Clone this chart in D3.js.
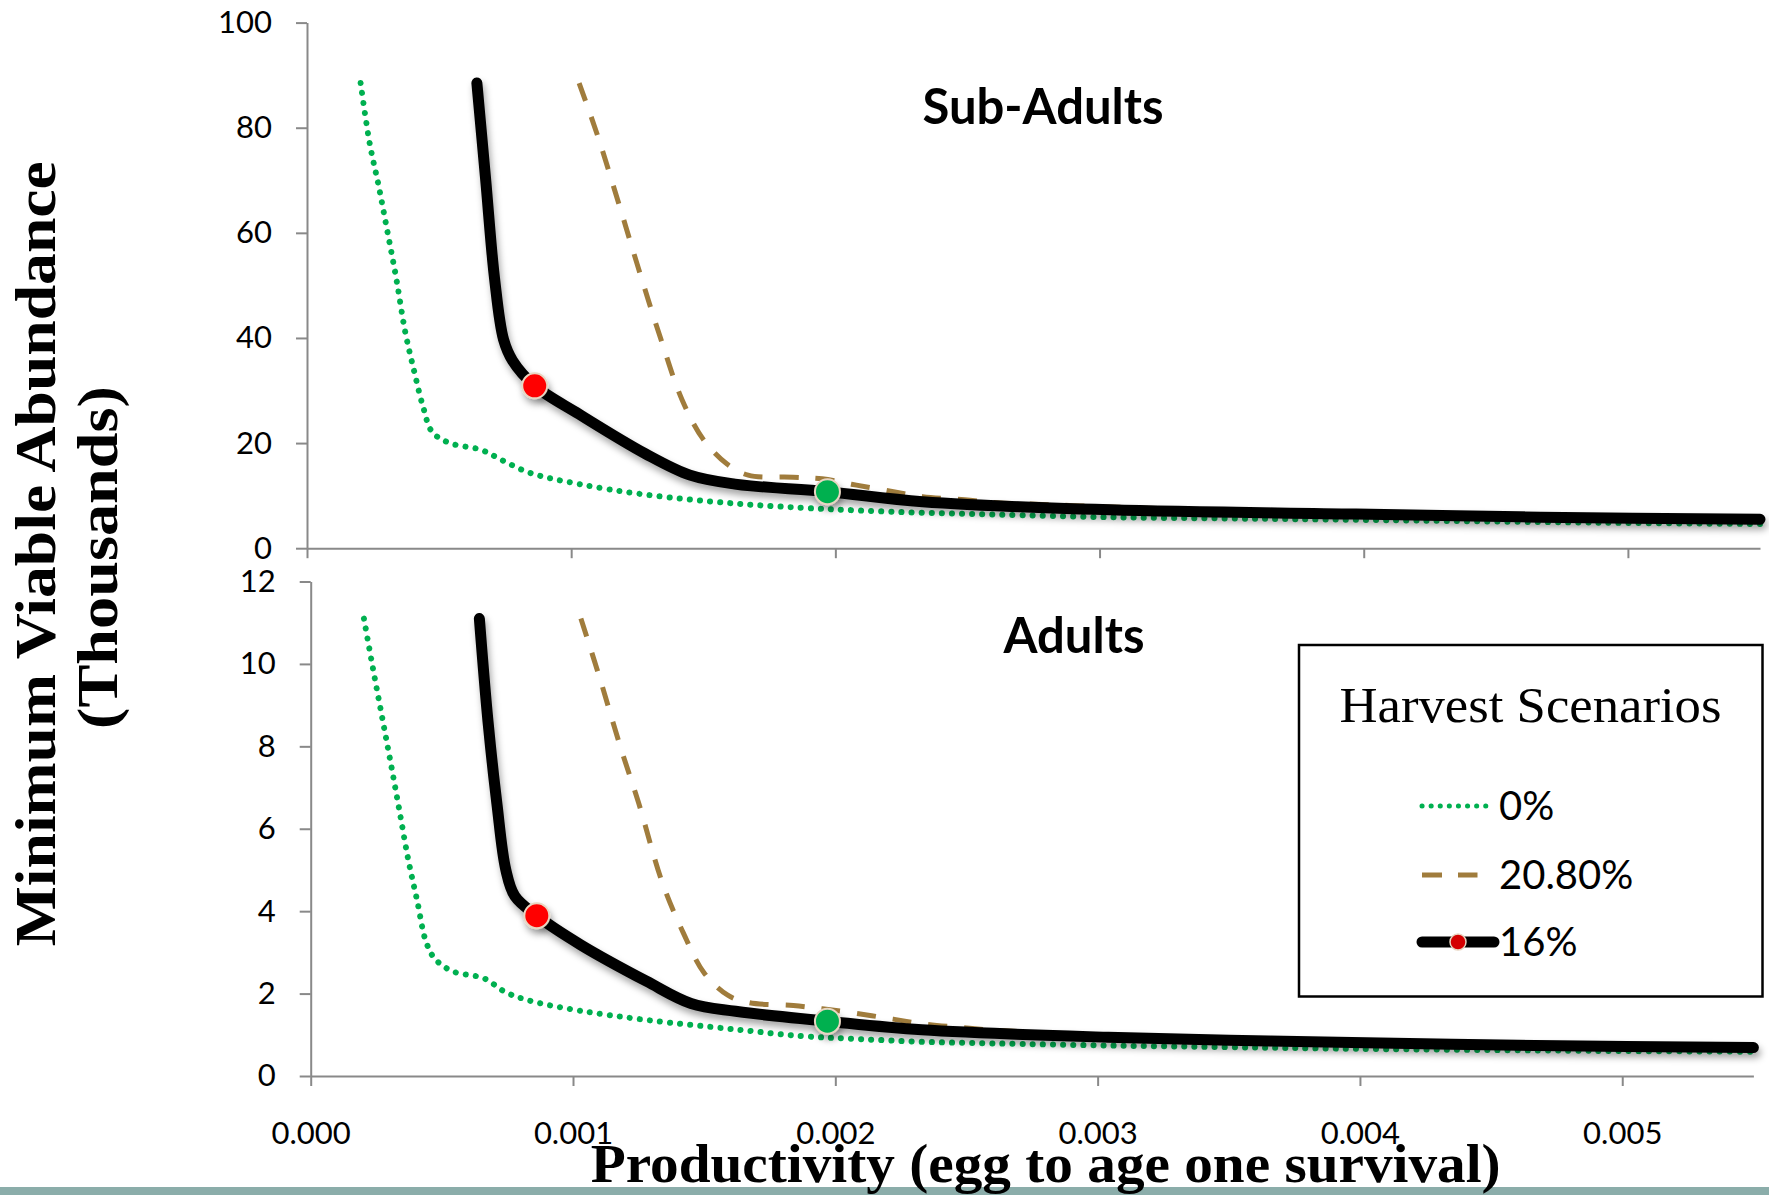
<!DOCTYPE html>
<html>
<head>
<meta charset="utf-8">
<script src="https://cdn.jsdelivr.net/npm/d3@7"></script>
<style>
  body { margin: 0; background: #fff; }
</style>
</head>
<body>
<div id="chart"></div>
<script>
// ---- data ----
const scenarioNames = ["0%", "20.80%", "16%"];
const xTicks = [0, 0.001, 0.002, 0.003, 0.004, 0.005];
const subAdultTicks = [0, 20, 40, 60, 80, 100];
const adultTicks = [0, 2, 4, 6, 8, 10, 12];

// 0% harvest
const prod0 = [0.000203, 0.000237, 0.000271, 0.000305, 0.000338, 0.000372, 0.000406, 0.00044, 0.000474, 0.000541,
  0.00066, 0.000744, 0.000846, 0.00103, 0.00128, 0.00162, 0.00187, 0.00208, 0.00233, 0.00261, 0.00304, 0.0035,
  0.00398, 0.0049, 0.0055];
const subAdults0 = [88.5, 77.1, 69.0, 60.1, 51.3, 41.1, 33.6, 26.8, 22.1, 20.0, 18.7, 16.6, 14.3, 12.2, 10.2, 8.5,
  7.7, 7.2, 6.75, 6.4, 5.9, 5.65, 5.4, 4.85, 4.6];
const adults0 = [11.1, 9.9, 8.75, 7.6, 6.45, 5.25, 4.25, 3.25, 2.84, 2.54, 2.37, 2.03, 1.81, 1.58, 1.36, 1.13,
  0.97, 0.9, 0.83, 0.79, 0.74, 0.70, 0.66, 0.61, 0.59];

// 20.80% harvest
const prod208 = [0.00103, 0.0011, 0.00118, 0.00125, 0.00134, 0.00142, 0.0015, 0.00159, 0.00167, 0.00184, 0.00195,
  0.00208, 0.00222, 0.00233, 0.00249, 0.00261, 0.00276, 0.0029, 0.0035, 0.0045, 0.0055];
const subAdults208 = [88.5, 78.5, 65.6, 54.0, 39.7, 28.2, 20.7, 16.0, 13.9, 13.5, 13.2, 12.0, 10.75, 9.8, 9.2, 8.65,
  8.35, 8.1, 7.1, 6.3, 5.6];
const adults208 = [11.1, 9.7, 8.0, 6.63, 4.7, 3.48, 2.5, 1.96, 1.78, 1.71, 1.63, 1.52, 1.38, 1.27, 1.17, 1.11, 1.06,
  1.02, 0.90, 0.79, 0.70];

// 16% harvest
const prod16 = [0.000643, 0.000676, 0.00071, 0.000744, 0.000778, 0.000862, 0.00103, 0.00128, 0.00145, 0.00162,
  0.00197, 0.00233, 0.00304, 0.00397, 0.00467, 0.0055];
const subAdults16 = [88.5, 70.3, 51.3, 39.7, 35.7, 30.9, 25.5, 18.0, 13.9, 12.2, 10.75, 8.85, 7.3, 6.5, 5.9, 5.5];
const adults16 = [11.1, 8.6, 6.6, 5.0, 4.37, 3.89, 3.18, 2.30, 1.76, 1.57, 1.33, 1.12, 0.94, 0.81, 0.74, 0.69];
const redPoint = 5;
const greenPoint = 10;

// ---- drawing ----
const W = 1769, H = 1195;
const svg = d3.select("#chart").append("svg").attr("width", W).attr("height", H);
svg.append("rect").attr("width", W).attr("height", H).attr("fill", "#fff");

const filter = svg.append("defs").append("filter")
  .attr("id", "shadow").attr("filterUnits", "userSpaceOnUse")
  .attr("x", 0).attr("y", 0).attr("width", W).attr("height", H);
filter.append("feDropShadow").attr("dx", 2).attr("dy", 5).attr("stdDeviation", 3.5)
  .attr("flood-color", "#000").attr("flood-opacity", 0.35);

const styles = [
  { color: "#00b050", width: 6, dash: "0.1 10", cap: "round" },
  { color: "#a07c3c", width: 5, dash: "19 17", cap: "butt" },
  { color: "#000", width: 11, dash: null, cap: "round" }
];

const panels = [
  {
    title: "Sub-Adults", titleX: 1043, titleY: 124,
    x: d3.scaleLinear().domain([0, 0.0055]).range([307, 1760]),
    y: d3.scaleLinear().domain([0, 100]).range([548.2, 22.6]),
    ticks: subAdultTicks, xLabels: false,
    series: [d3.zip(prod0, subAdults0), d3.zip(prod208, subAdults208), d3.zip(prod16, subAdults16)]
  },
  {
    title: "Adults", titleX: 1074, titleY: 653,
    x: d3.scaleLinear().domain([0, 0.0055]).range([310.7, 1753.4]),
    y: d3.scaleLinear().domain([0, 12]).range([1076, 581.5]),
    ticks: adultTicks, xLabels: true,
    series: [d3.zip(prod0, adults0), d3.zip(prod208, adults208), d3.zip(prod16, adults16)]
  }
];

panels.forEach(p => {
  const g = svg.append("g");

  const yAxis = g.append("g")
    .attr("transform", `translate(${p.x.range()[0]},0)`)
    .call(d3.axisLeft(p.y).tickValues(p.ticks).tickSize(11).tickSizeOuter(0).tickPadding(24));

  const xAxis = g.append("g")
    .attr("transform", `translate(0,${p.y.range()[0]})`)
    .call(d3.axisBottom(p.x).tickValues(xTicks).tickSize(10).tickSizeOuter(0).tickPadding(36)
      .tickFormat(p.xLabels ? d3.format(".3f") : ""));

  [yAxis, xAxis].forEach(a => {
    a.selectAll("path, line").attr("stroke", "#898989").attr("stroke-width", 2);
    a.selectAll("text").attr("font-family", "Lato, 'Open Sans', sans-serif")
      .attr("font-size", 31).attr("fill", "#000");
  });

  g.append("text")
    .attr("x", p.titleX).attr("y", p.titleY)
    .attr("text-anchor", "middle")
    .attr("font-family", "Lato, 'Open Sans', sans-serif")
    .attr("font-weight", "bold").attr("font-size", 49)
    .text(p.title);

  const line = d3.line()
    .x(d => p.x(d[0]))
    .y(d => p.y(d[1]))
    .curve(d3.curveCatmullRom.alpha(0.5));

  p.series.forEach((s, i) => {
    const st = styles[i];
    g.append("path")
      .datum(s)
      .attr("d", line)
      .attr("fill", "none")
      .attr("stroke", st.color)
      .attr("stroke-width", st.width)
      .attr("stroke-dasharray", st.dash)
      .attr("stroke-linecap", st.cap)
      .attr("stroke-linejoin", "round")
      .attr("filter", i === 2 ? "url(#shadow)" : null);
  });

  const black = p.series[2];
  g.selectAll("circle.mark")
    .data([[black[redPoint], "#ff0000"], [black[greenPoint], "#00b050"]])
    .join("circle")
    .attr("class", "mark")
    .attr("cx", d => p.x(d[0][0]))
    .attr("cy", d => p.y(d[0][1]))
    .attr("r", 12.5)
    .attr("fill", d => d[1])
    .attr("stroke", "#e8d6c2")
    .attr("stroke-width", 2)
    .attr("filter", "url(#shadow)");
});

// legend
const legend = svg.append("g");
legend.append("rect")
  .attr("x", 1299).attr("y", 645).attr("width", 463.5).attr("height", 351.5)
  .attr("fill", "#fff").attr("stroke", "#000").attr("stroke-width", 2.5);
legend.append("text")
  .attr("x", 1530.5).attr("y", 722).attr("text-anchor", "middle")
  .attr("font-family", "'Liberation Serif', 'Times New Roman', serif")
  .attr("font-size", 50).attr("textLength", 382).attr("lengthAdjust", "spacingAndGlyphs")
  .text("Harvest Scenarios");

const rows = legend.selectAll("g.item")
  .data(scenarioNames)
  .join("g")
  .attr("class", "item")
  .attr("transform", (d, i) => `translate(0,${[806, 875, 942][i]})`);

rows.append("line")
  .attr("x1", 1422).attr("x2", (d, i) => [1489, 1477.5, 1494][i])
  .attr("y1", 0).attr("y2", 0)
  .attr("stroke", (d, i) => styles[i].color)
  .attr("stroke-width", (d, i) => i === 0 ? 5 : styles[i].width)
  .attr("stroke-dasharray", (d, i) => i === 1 ? "20 16" : i === 0 ? "0.1 9" : styles[i].dash)
  .attr("stroke-linecap", (d, i) => styles[i].cap);

rows.filter((d, i) => i === 2).append("circle")
  .attr("cx", 1458).attr("cy", 0).attr("r", 8)
  .attr("fill", "#d40000").attr("stroke", "#e8d6c2").attr("stroke-width", 1.5);

rows.append("text")
  .attr("x", 1499).attr("y", 14)
  .attr("font-family", "Lato, 'Open Sans', sans-serif")
  .attr("font-size", 40)
  .text(d => d);

// bottom band and axis titles
svg.append("rect").attr("x", 0).attr("y", 1187).attr("width", W).attr("height", 8).attr("fill", "#8badaa");

svg.append("text")
  .attr("x", 1045.7).attr("y", 1181.7).attr("text-anchor", "middle")
  .attr("font-family", "'Liberation Serif', 'Times New Roman', serif")
  .attr("font-weight", "bold").attr("font-size", 54)
  .attr("textLength", 910).attr("lengthAdjust", "spacingAndGlyphs")
  .text("Productivity (egg to age one survival)");

svg.append("text")
  .attr("transform", "translate(55,553.7) rotate(-90)")
  .attr("text-anchor", "middle")
  .attr("font-family", "'Liberation Serif', 'Times New Roman', serif")
  .attr("font-weight", "bold").attr("font-size", 56)
  .attr("textLength", 785).attr("lengthAdjust", "spacingAndGlyphs")
  .text("Minimum Viable Abundance");

svg.append("text")
  .attr("transform", "translate(117,557.5) rotate(-90)")
  .attr("text-anchor", "middle")
  .attr("font-family", "'Liberation Serif', 'Times New Roman', serif")
  .attr("font-weight", "bold").attr("font-size", 56)
  .attr("textLength", 343).attr("lengthAdjust", "spacingAndGlyphs")
  .text("(Thousands)");
</script>
</body>
</html>
